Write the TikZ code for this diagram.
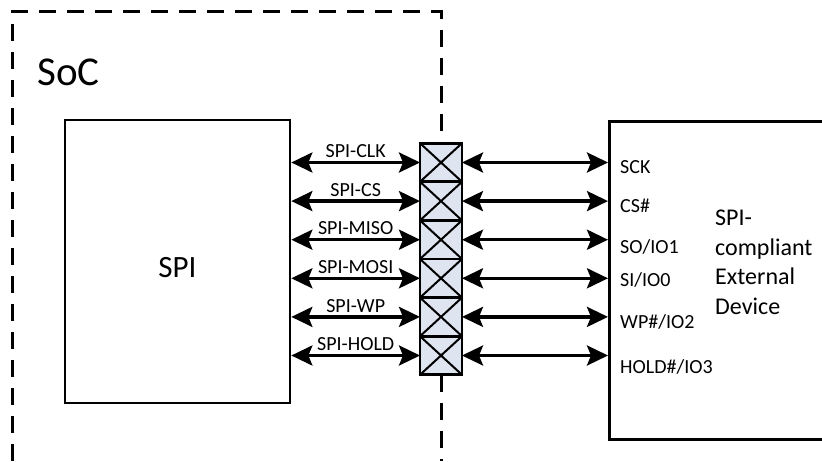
\documentclass[tikz,border=0pt]{standalone}
\usepackage{fontspec}
\setmainfont{Carlito}
\usetikzlibrary{arrows.meta,positioning}
\definecolor{padfill}{rgb}{0.87,0.90,0.94}

\begin{document}
\begin{tikzpicture}[x=1pt,y=1pt,font=\fontsize{20}{23}\selectfont,
   blk/.style={draw,line width=2.7pt},
   pad/.style={draw,line width=2.7pt,fill=padfill,minimum width=42pt,
               minimum height=38.6pt,inner sep=0pt,outer sep=0pt},
   sig/.style={{Stealth[length=21pt,width=20pt,inset=4pt]}-{Stealth[length=21pt,width=20pt,inset=4pt]},
               line width=3.2pt},
   soc/.style={dash pattern=on 17pt off 11pt,line width=3pt},
   txt/.style={inner sep=0pt}]
  \useasboundingbox (0,0) rectangle (822,461);
  \clip (0,0) rectangle (822,461);

  % SoC side
  \node[blk,minimum width=225pt,minimum height=283pt] (spi) at (177.5,199.5) {};
  \node[txt,font=\fontsize{31}{36}\selectfont] (spilbl) at ([yshift=-6pt]spi.center) {SPI};
  \node[txt,anchor=west,font=\fontsize{41}{48}\selectfont] (soclbl) at (37,389) {SoC};

  % pads
  \node[pad] (pad1) at (441,298.5) {};
  \foreach \i [remember=\i as \j (initially 1)] in {2,...,6}
    \node[pad,below=0pt of pad\j] (pad\i) {};
  \foreach \i in {1,...,6}
    \draw[line width=2pt] (pad\i.north west) -- (pad\i.south east)
                          (pad\i.north east) -- (pad\i.south west);

  \draw[soc] (12,0) -- (12,449) -- (441,449) -- (pad1.north);
  \draw[soc] (pad6.south) -- (441,0);

  % external device
  \node[blk,anchor=north west,minimum width=240pt,minimum height=318pt] (dev) at (608,341) {};
  \node[txt,anchor=west,align=left,font=\fontsize{24}{29.5}\selectfont] (devlbl)
       at (715,198.5) {SPI-\\compliant\\External\\Device};

  % signals
  \foreach \i/\sig/\pin/\dy in {1/SPI-CLK/SCK/11.5, 2/SPI-CS/CS\#/11.7,
      3/SPI-MISO/{SO/IO1}/13.5, 4/SPI-MOSI/{SI/IO0}/8.7,
      5/SPI-WP/{WP\#/IO2}/11.5, 6/SPI-HOLD/{HOLD\#/IO3}/18} {
    \draw[sig] (spi.east |- pad\i.west) -- (pad\i.west)
          node[txt,midway,above=3pt] {\sig};
    \draw[sig] (pad\i.east) -- (dev.west |- pad\i.east);
    \node[txt,anchor=base west] (pin\i)
         at ([xshift=12pt,yshift=-\dy pt]dev.west |- pad\i.east) {\pin};
  }
\end{tikzpicture}
\end{document}
